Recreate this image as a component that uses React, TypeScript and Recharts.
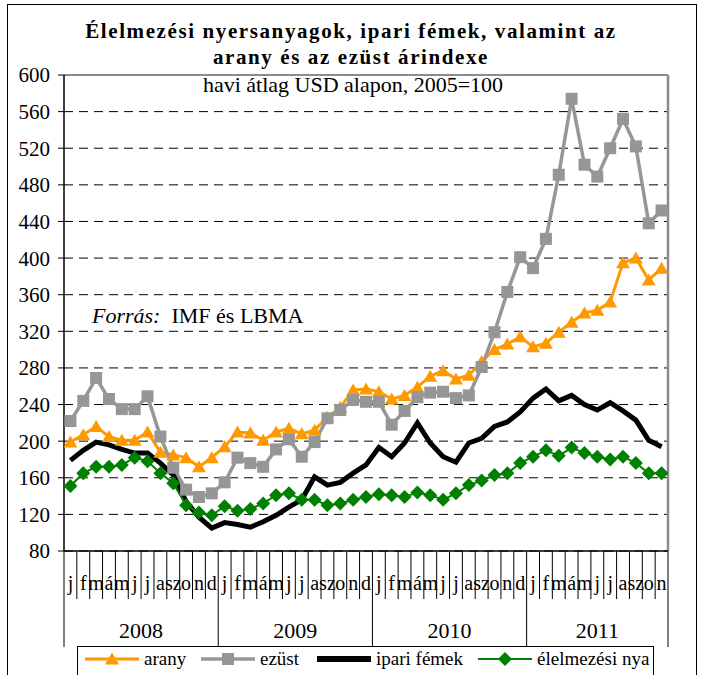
import React from 'react';
import { LineChart, Line, XAxis, YAxis, CartesianGrid, ReferenceLine } from 'recharts';

const MONTHS = ['j', 'f', 'm', 'á', 'm', 'j', 'j', 'a', 'sz', 'o', 'n', 'd'];
const YEARS = ['2008', '2009', '2010', '2011'];
const Y_TICKS = [80, 120, 160, 200, 240, 280, 320, 360, 400, 440, 480, 520, 560, 600];

const arany = [199, 207, 216, 205, 201, 201, 210, 188, 185, 182, 172, 182,
  194, 210, 209, 201, 210, 214, 208, 212, 226, 237, 256, 257,
  254, 246, 250, 259, 271, 277, 268, 272, 287, 300, 306, 314,
  303, 307, 319, 330, 340, 343, 352, 395, 400, 376, 389];
const ezust = [222, 244, 269, 246, 235, 235, 249, 205, 171, 147, 139, 143,
  155, 182, 176, 172, 191, 202, 183, 199, 225, 234, 245, 243,
  243, 218, 233, 248, 253, 254, 247, 250, 281, 319, 363, 401,
  389, 421, 491, 574, 502, 489, 520, 552, 522, 438, 452];
const ipari = [179, 190, 199, 196, 191, 187, 187, 176, 163, 134, 117, 105,
  111, 109, 106, 112, 119, 128, 136, 161, 152, 155, 165, 174,
  193, 183, 198, 220, 198, 183, 177, 198, 203, 216, 221, 232,
  247, 257, 244, 250, 240, 234, 242, 233, 223, 201, 194];
const elelmezesi = [151, 165, 172, 172, 174, 182, 178, 165, 154, 130, 122, 119,
  129, 124, 126, 132, 141, 143, 136, 136, 130, 132, 136, 139,
  142, 141, 139, 144, 141, 136, 143, 152, 157, 163, 165, 176,
  183, 190, 184, 193, 187, 183, 180, 183, 176, 165, 165];

const N = arany.length;
const monthLabels: string[] = [];
const monthYear: number[] = [];
YEARS.forEach((_, yi) => {
  MONTHS.forEach((m) => {
    if (monthLabels.length < N) {
      monthLabels.push(m);
      monthYear.push(yi);
    }
  });
});

const data = arany.map((v, i) => ({
  i,
  arany: v,
  ezust: ezust[i],
  ipari: ipari[i],
  elelmezesi: elelmezesi[i],
}));

const W = 702;
const H = 675;
const LEFT = 64;
const RIGHT_M = 34;
const TOP = 75;
const XAXIS_H = 124;
const BAND = (W - LEFT - RIGHT_M) / N;
const FONT = "'Liberation Serif', 'Times New Roman', serif";

const ORANGE = '#FF9900';
const GRAY = '#969696';
const BLACK = '#000000';
const GREEN = '#008000';

const Triangle = (props: any) => {
  const { cx, cy, key } = props;
  if (cx == null || cy == null) return <g key={key} />;
  return <polygon key={key} points={`${cx},${cy - 6.5} ${cx + 7},${cy + 5.5} ${cx - 7},${cy + 5.5}`} fill={ORANGE} />;
};
const Square = (props: any) => {
  const { cx, cy, key } = props;
  if (cx == null || cy == null) return <g key={key} />;
  return <rect key={key} x={cx - 6} y={cy - 6} width={12} height={12} fill={GRAY} />;
};
const Diamond = (props: any) => {
  const { cx, cy, key } = props;
  if (cx == null || cy == null) return <g key={key} />;
  return <polygon key={key} points={`${cx},${cy - 7} ${cx + 7},${cy} ${cx},${cy + 7} ${cx - 7},${cy}`} fill={GREEN} />;
};

const MonthTick = (props: any) => {
  const { x, y, payload } = props;
  const i = payload.value as number;
  const half = BAND / 2;
  const isYearStart = i % 12 === 0;
  const els: any[] = [];
  els.push(<line key="l" x1={x - half} y1={y} x2={x - half} y2={y + (isYearStart ? 96 : 48)} stroke="#000" strokeWidth={1} />);
  if (i === N - 1) {
    els.push(<line key="r" x1={x + half} y1={y} x2={x + half} y2={y + 96} stroke="#000" strokeWidth={1} />);
  }
  els.push(
    <text key="m" x={x} y={y + 39} textAnchor="middle" fontSize={20} fontFamily={FONT} fill="#000">
      {monthLabels[i]}
    </text>
  );
  YEARS.forEach((yr, yi) => {
    const idxs = monthYear.map((v, k) => (v === yi ? k : -1)).filter((k) => k >= 0);
    const mid = (idxs[0] + idxs[idxs.length - 1]) / 2;
    if (Math.floor(mid) === i) {
      els.push(
        <text key={'y' + yr} x={x + (mid - i) * BAND} y={y + 87} textAnchor="middle" fontSize={22} fontFamily={FONT} fill="#000">
          {yr}
        </text>
      );
    }
  });
  return <g>{els}</g>;
};

const LegendIcon = ({ color, marker, width }: any) => (
  <svg width={54} height={16} style={{ display: 'block' }}>
    <line x1={0} y1={8} x2={54} y2={8} stroke={color} strokeWidth={width} />
    {marker === 'triangle' && <polygon points="27,1.5 34,13.5 20,13.5" fill={color} />}
    {marker === 'square' && <rect x={21} y={2} width={12} height={12} fill={color} />}
    {marker === 'diamond' && <polygon points="27,1 34,8 27,15 20,8" fill={color} />}
  </svg>
);

const legendItems = [
  { name: 'arany', color: ORANGE, marker: 'triangle', width: 3, left: 85 },
  { name: 'ezüst', color: GRAY, marker: 'square', width: 3.5, left: 201 },
  { name: 'ipari fémek', color: BLACK, marker: 'none', width: 6, left: 317 },
  { name: 'élelmezési nya', color: GREEN, marker: 'diamond', width: 2, left: 478 },
];

export default function App() {
  return (
    <div style={{ position: 'absolute', left: 0, top: 0, width: W, height: H, overflow: 'hidden', background: '#fff', fontFamily: FONT }}>
      <div style={{ position: 'absolute', left: 7, top: 4, width: 690, height: 700, border: '1.5px solid #000', boxSizing: 'border-box' }} />
      <LineChart width={W} height={H} data={data} margin={{ top: TOP, right: RIGHT_M, bottom: 0, left: 0 }}>
        <CartesianGrid vertical={false} stroke="#000" strokeDasharray="9 6" strokeWidth={1} />
        <XAxis
          dataKey="i"
          type="number"
          domain={[-0.5, N - 0.5]}
          ticks={data.map((d) => d.i)}
          interval={0}
          height={XAXIS_H}
          tickLine={false}
          tickSize={0}
          tickMargin={0}
          axisLine={{ stroke: '#000', strokeWidth: 1.5 }}
          tick={<MonthTick />}
          allowDataOverflow
        />
        <YAxis
          domain={[80, 600]}
          ticks={Y_TICKS}
          interval={0}
          width={LEFT}
          tickSize={6}
          tickMargin={8}
          axisLine={{ stroke: '#000', strokeWidth: 1.5 }}
          tickLine={{ stroke: '#000', strokeWidth: 1 }}
          tick={{ fill: '#000', fontSize: 21, fontFamily: FONT }}
          allowDataOverflow
        />
        <ReferenceLine y={600} stroke="#8c8c8c" strokeWidth={2} />
        <ReferenceLine x={N - 0.5} stroke="#8c8c8c" strokeWidth={2.5} />
        <Line dataKey="arany" stroke={ORANGE} strokeWidth={3} dot={Triangle} activeDot={false} isAnimationActive={false} />
        <Line dataKey="ezust" stroke={GRAY} strokeWidth={3.5} dot={Square} activeDot={false} isAnimationActive={false} />
        <Line dataKey="ipari" stroke={BLACK} strokeWidth={5} dot={false} activeDot={false} isAnimationActive={false} />
        <Line dataKey="elelmezesi" stroke={GREEN} strokeWidth={2} dot={Diamond} activeDot={false} isAnimationActive={false} />
      </LineChart>
      <div style={{ position: 'absolute', left: 0, top: 18, width: W, textAlign: 'center', fontWeight: 'bold', fontSize: 21, lineHeight: '26px', letterSpacing: '1.6px' }}>
        Élelmezési nyersanyagok, ipari fémek, valamint az
      </div>
      <div style={{ position: 'absolute', left: 0, top: 44, width: W, textAlign: 'center', fontWeight: 'bold', fontSize: 21, lineHeight: '26px', letterSpacing: '1.6px' }}>
        arany és az ezüst árindexe
      </div>
      <div style={{ position: 'absolute', left: 0, top: 72, width: W + 4, textAlign: 'center', fontSize: 22, lineHeight: '26px' }}>
        havi átlag USD alapon, 2005=100
      </div>
      <div style={{ position: 'absolute', left: 92, top: 303, fontSize: 22, lineHeight: '26px', whiteSpace: 'pre' }}>
        <i>Forrás:</i>{'  '}IMF és LBMA
      </div>
      <div style={{ position: 'absolute', left: 77, top: 646, width: 577, height: 40, border: '1px solid #000', background: '#fff', boxSizing: 'border-box' }} />
      {legendItems.map((it) => (
        <div key={it.name} style={{ position: 'absolute', left: it.left, top: 649, height: 20, display: 'flex', alignItems: 'center' }}>
          <LegendIcon color={it.color} marker={it.marker} width={it.width} />
          <span style={{ marginLeft: 5, fontSize: 19, lineHeight: '20px', whiteSpace: 'pre' }}>{it.name}</span>
        </div>
      ))}
    </div>
  );
}
